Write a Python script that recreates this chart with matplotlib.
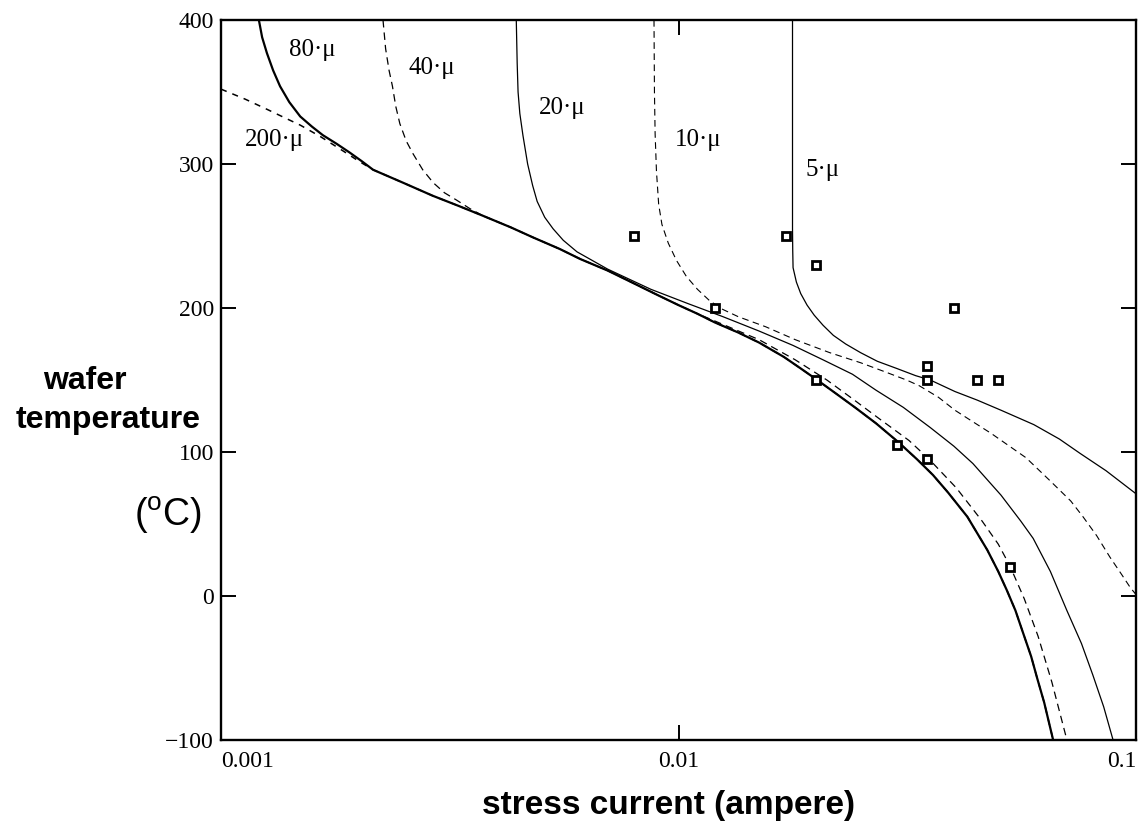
import matplotlib
matplotlib.use("Agg")
import matplotlib.pyplot as plt
from matplotlib.ticker import FixedLocator, FixedFormatter, NullLocator

plt.rcParams['mathtext.fontset'] = 'custom'
plt.rcParams['mathtext.rm'] = 'Liberation Sans'

# ---- data: stress current (A) vs wafer temperature (C) for each line width ----
# lower envelope shared by the 200 um and 80 um curves
env_i = [0.00215, 0.00250, 0.00290, 0.00330, 0.00374, 0.00430, 0.00481, 0.00550,
         0.00610, 0.00700, 0.00800, 0.00900, 0.01000, 0.01100, 0.01200, 0.01350,
         0.01500, 0.01700, 0.01850, 0.02010, 0.02200, 0.02430, 0.02700, 0.03020,
         0.03320, 0.03600, 0.03880, 0.04280, 0.04730, 0.05000, 0.05220, 0.05450,
         0.05670, 0.05900, 0.06080, 0.06300, 0.06590]
env_t = [296, 287, 278, 271, 264, 256, 249, 241,
         234, 226, 217, 209, 202, 196, 190, 183,
         176, 166, 158, 150, 141, 131, 120, 107,
         95, 84, 72, 55, 32, 17, 4, -10,
         -26, -42, -57, -74, -100]

head_200_i = [0.00100, 0.00113, 0.00126, 0.00138, 0.00149, 0.00165, 0.00185, 0.00200]
head_200_t = [352, 345, 338, 332, 327, 319, 309, 302]

head_80_i = [0.00121, 0.00123, 0.00126, 0.00130, 0.001346, 0.00141, 0.00149, 0.00158,
             0.00167, 0.00179, 0.00191, 0.00203]
head_80_t = [400, 388, 377, 365, 354, 343, 333, 326,
             320, 314, 308, 302]

i_40 = [0.00226, 0.00229, 0.00233, 0.00237, 0.00241, 0.00246, 0.00254, 0.00263,
        0.00276, 0.00291, 0.00308, 0.00327, 0.00350, 0.00374, 0.00430, 0.00481,
        0.00550, 0.00610, 0.00700, 0.00800, 0.00900, 0.01000, 0.01100, 0.01200,
        0.01500, 0.01800, 0.02110, 0.02400, 0.02750, 0.03190, 0.03530, 0.04050,
        0.04610, 0.05000, 0.05300, 0.05700, 0.06110, 0.06550, 0.07063]
t_40 = [400, 380, 365, 354, 340, 328, 316, 307,
        296, 287, 280, 275, 269, 264, 256, 249,
        241, 234, 226, 217, 209, 202, 196, 191,
        178, 164, 150, 137, 123, 108, 95, 75,
        52, 36, 21, -2, -28, -60, -100]

i_20 = [0.00442, 0.00444, 0.00446, 0.00450, 0.00457, 0.00468, 0.00480, 0.00491,
        0.00510, 0.00532, 0.00560, 0.00600, 0.00700, 0.00870, 0.01050, 0.01250,
        0.01500, 0.01780, 0.02070, 0.02400, 0.02700, 0.03100, 0.03550, 0.04000,
        0.04400, 0.05070, 0.05600, 0.05960, 0.06500, 0.07060, 0.07600, 0.08050,
        0.08500, 0.08910]
t_20 = [400, 370, 350, 335, 320, 300, 285, 274,
        263, 255, 247, 239, 227, 213, 203, 194,
        184, 174, 164, 154, 143, 131, 117, 104,
        92, 70, 52, 40, 17, -10, -33, -55,
        -77, -100]

i_10 = [0.00884, 0.00886, 0.00889, 0.00895, 0.00905, 0.00920, 0.00950, 0.00990,
        0.01040, 0.01100, 0.01170, 0.01250, 0.01350, 0.01550, 0.01800, 0.02140,
        0.02500, 0.02810, 0.03150, 0.03360, 0.03700, 0.04020, 0.04400, 0.04820,
        0.05750, 0.06490, 0.07200, 0.07660, 0.08200, 0.08770, 0.09300, 0.09710,
        0.10000]
t_10 = [400, 350, 321, 295, 272, 258, 245, 233,
        222, 213, 205, 199, 194, 187, 178, 169,
        162, 156, 150, 146, 138, 129, 121, 113,
        96, 80, 66, 55, 42, 27, 15, 6,
        1]

i_5 = [0.01775, 0.01775, 0.01777, 0.01780, 0.01810, 0.01850, 0.01910, 0.01980,
       0.02070, 0.02180, 0.02320, 0.02500, 0.02720, 0.03000, 0.03300, 0.03550,
       0.04020, 0.04500, 0.05070, 0.05980, 0.06800, 0.07550, 0.08600, 0.10000]
t_5 = [400, 255, 240, 228, 218, 210, 202, 195,
       188, 181, 175, 169, 163, 158, 153, 150,
       142, 136, 129, 119, 109, 99, 87, 71]

# measured points
meas_i = [0.008, 0.0172, 0.020, 0.012, 0.040, 0.035, 0.035, 0.045, 0.050,
          0.020, 0.030, 0.035, 0.053]
meas_t = [250, 250, 230, 200, 200, 160, 150, 150, 150,
          150, 105, 95, 20]

# curve labels and their anchor positions
curve_labels = ["200·μ", "80·μ", "40·μ", "20·μ", "10·μ", "5·μ"]
label_i = [0.00131, 0.00158, 0.00289, 0.00556, 0.01104, 0.0207]
label_t = [317, 379, 367, 339, 317, 296]

x_ticks = [0.001, 0.01, 0.1]
x_tick_labels = ["0.001", "0.01", "0.1"]
y_ticks = [-100, 0, 100, 200, 300, 400]
y_tick_labels = ["\u2212100", "0", "100", "200", "300", "400"]

i_200 = head_200_i + env_i
t_200 = head_200_t + env_t
i_80 = head_80_i + env_i
t_80 = head_80_t + env_t

# ---- figure ----
W, H = 1143, 830
fig = plt.figure(figsize=(W / 100, H / 100), dpi=100)
ax = fig.add_axes([221 / W, 1 - 740 / H, (1136 - 221) / W, (740 - 20) / H])

serif = 'Liberation Serif'
dash_a = (0, (6, 4))
dash_b = (0, (4, 4))

ax.plot(i_80, t_80, color='black', lw=1.6, solid_capstyle='round')
ax.plot(i_200, t_200, color='black', lw=1.1, linestyle=dash_b)
ax.plot(i_40, t_40, color='black', lw=0.9, linestyle=dash_a)
ax.plot(i_20, t_20, color='black', lw=0.9)
ax.plot(i_10, t_10, color='black', lw=0.8, linestyle=dash_a)
ax.plot(i_5, t_5, color='black', lw=0.9)

ax.plot(meas_i, meas_t, linestyle='none', marker='s', markersize=5.5,
        markerfacecolor='white', markeredgecolor='black', markeredgewidth=2.0)

for txt, xi, yt in zip(curve_labels, label_i, label_t):
    ax.text(xi, yt, txt, fontsize=18, family=serif, ha='center', va='center')

ax.set_xscale('log')
ax.set_xlim(0.001, 0.1)
ax.set_ylim(-100, 400)

ax.xaxis.set_major_locator(FixedLocator(x_ticks))
ax.xaxis.set_major_formatter(FixedFormatter(x_tick_labels))
ax.xaxis.set_minor_locator(NullLocator())
ax.yaxis.set_major_locator(FixedLocator(y_ticks))
ax.yaxis.set_major_formatter(FixedFormatter(y_tick_labels))

ax.tick_params(axis='both', which='major', direction='in', length=11, width=1.4,
               top=True, right=True, labelsize=17)
ax.tick_params(axis='x', pad=8)
ax.tick_params(axis='y', pad=5)
for lab in ax.get_xticklabels() + ax.get_yticklabels():
    lab.set_family(serif)
xlabs = ax.get_xticklabels()
xlabs[0].set_ha('left')
xlabs[-1].set_ha('right')

for sp in ax.spines.values():
    sp.set_linewidth(1.7)

# axis titles
fig.text(669 / W, 1 - 805 / H, "stress current (ampere)", fontsize=24,
         fontweight='bold', family='Liberation Sans', ha='center', va='center')
fig.text(85 / W, 1 - 381 / H, "wafer", fontsize=23, fontweight='bold',
         family='Liberation Sans', ha='center', va='center')
fig.text(108 / W, 1 - 420 / H, "temperature", fontsize=23, fontweight='bold',
         family='Liberation Sans', ha='center', va='center')
fig.text(168 / W, 1 - 515 / H, r"($^{\mathrm{o}}$C)", fontsize=27,
         family='Liberation Sans', ha='center', va='center')

fig.savefig("out.png", dpi=100, facecolor='white')
